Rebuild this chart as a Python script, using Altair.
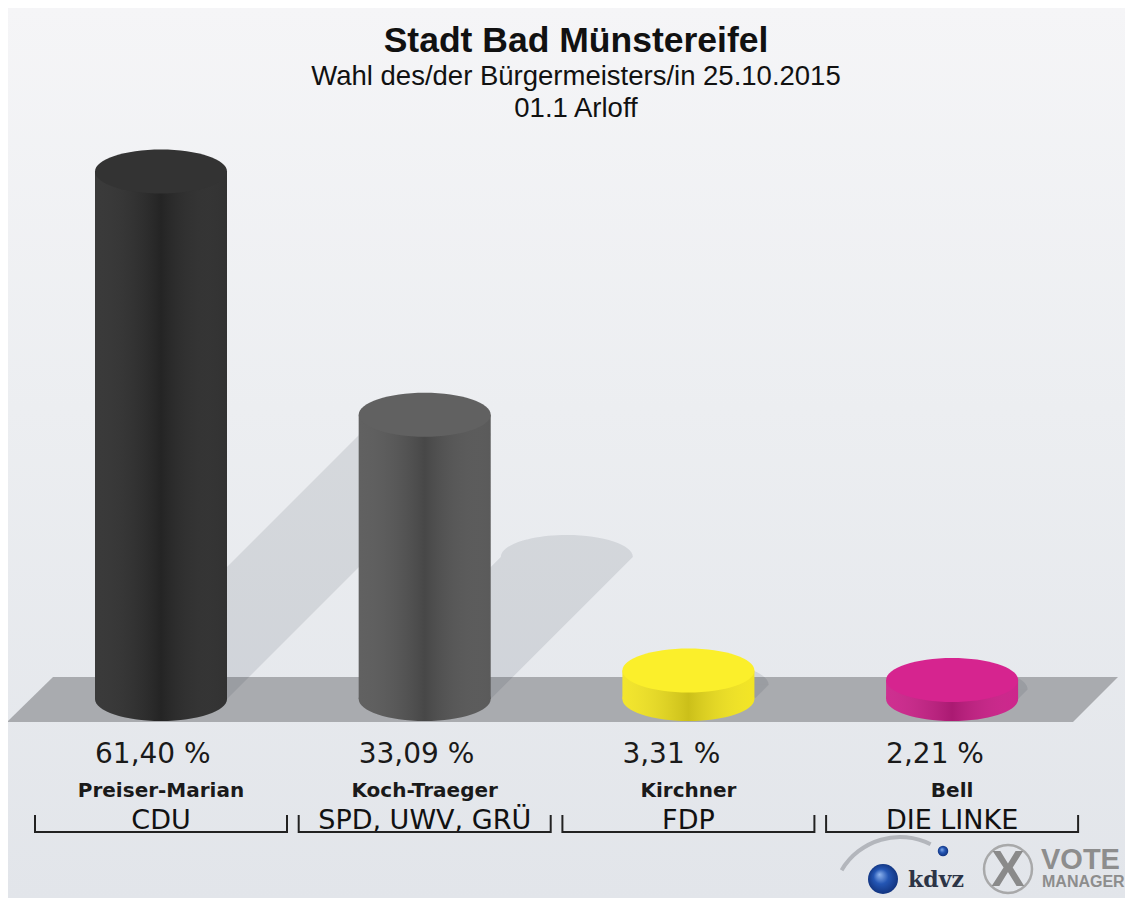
import altair as alt
import pandas as pd

# ---------------- data ----------------
title_text = "Stadt Bad Münstereifel"
subtitle_1 = "Wahl des/der Bürgermeisters/in 25.10.2015"
subtitle_2 = "01.1 Arloff"
candidates = ["Preiser-Marian", "Koch-Traeger", "Kirchner", "Bell"]
parties = ["CDU", "SPD, UWV, GRÜ", "FDP", "DIE LINKE"]
shares = [61.40, 33.09, 3.31, 2.21]
share_labels = ["61,40 %", "33,09 %", "3,31 %", "2,21 %"]
body_colors = ["#2b2b2b", "#555555", "#f2e41e", "#cb1f88"]
top_colors = ["#333333", "#616161", "#fbef2b", "#d6248f"]

# ---------------- layout ----------------
W, H = 1117, 890
BASE = 691.0      # pixel row of the bar base (chart coords)
K = 8.59          # pixels per percent
X0, STEP = 153.0, 263.7
HALF = 66.0
HALF_U = HALF / STEP
FONT = "Liberation Sans"
LFONT = "DejaVu Sans"

def px_to_u(px):
    return (px - X0) / STEP

xs = alt.Scale(domain=[px_to_u(0), px_to_u(W)], nice=False, zero=False)
ys = alt.Scale(domain=[-(H - BASE) / K, BASE / K], nice=False, zero=False)

df = pd.DataFrame({
    "i": list(range(len(candidates))),
    "cand": candidates,
    "party": parties,
    "share": shares,
    "label": share_labels,
    "body": body_colors,
    "top": top_colors,
})
df["zero"] = 0.0
df["xl"] = df["i"] - HALF_U
df["xr"] = df["i"] + HALF_U
df["bl"] = df["i"] - 126 / STEP
df["br"] = df["i"] + 126 / STEP
df["sh_y"] = df["share"] / 2
df["sh_x"] = df["i"] + df["sh_y"] * K / STEP

# shadow parallelograms (45 degree projection of each cylinder)
rows = []
for _, r in df.iterrows():
    for t in (0.0, 1.0):
        yv = t * r["share"] / 2
        dx = yv * K / STEP
        rows.append({"i": r["i"], "y": yv, "xl": r["i"] - HALF_U + dx, "xr": r["i"] + HALF_U + dx})
shadow_df = pd.DataFrame(rows)

floor_df = pd.DataFrame({
    "y": [(BASE - 714) / K, (BASE - 669) / K],
    "xl": [px_to_u(-1), px_to_u(45)],
    "xr": [px_to_u(1065), px_to_u(1110)],
})

one = pd.DataFrame({"a": [0]})

ELL = ("M -1 0 C -1 -0.1841 -0.5523 -0.3333 0 -0.3333 "
       "C 0.5523 -0.3333 1 -0.1841 1 0 "
       "C 1 0.1841 0.5523 0.3333 0 0.3333 "
       "C -0.5523 0.3333 -1 0.1841 -1 0 Z")
HALF_ELL = ("M -1 0 C -1 -0.1841 -0.5523 -0.3333 0 -0.3333 "
            "C 0.5523 -0.3333 1 -0.1841 1 0 Z")
ELL_SIZE = (2 * HALF) ** 2

shade = alt.LinearGradient(
    gradient="linear", x1=0, x2=1, y1=0, y2=0,
    stops=[
        alt.GradientStop(color="rgba(255,255,255,0.07)", offset=0),
        alt.GradientStop(color="rgba(0,0,0,0.16)", offset=0.5),
        alt.GradientStop(color="rgba(255,255,255,0.03)", offset=1),
    ],
)

bg_grad = alt.LinearGradient(
    gradient="linear", x1=0, x2=0, y1=0, y2=1,
    stops=[
        alt.GradientStop(color="#f5f5f7", offset=0),
        alt.GradientStop(color="#eceef1", offset=0.45),
        alt.GradientStop(color="#e2e5ea", offset=1),
    ],
)

ball_grad = alt.RadialGradient(
    gradient="radial", x1=0.38, y1=0.35, r1=0.0, x2=0.5, y2=0.5, r2=0.55,
    stops=[
        alt.GradientStop(color="#8fb4ee", offset=0),
        alt.GradientStop(color="#2456b4", offset=0.45),
        alt.GradientStop(color="#0f2f78", offset=1),
    ],
)

X = lambda f: alt.X(f, scale=xs, axis=None)
Y = lambda f: alt.Y(f, scale=ys, axis=None)

background = alt.Chart(one).mark_rect(fill=bg_grad).encode(
    x=alt.value(0), x2=alt.value(W), y=alt.value(0), y2=alt.value(H)
)

floor = alt.Chart(floor_df).mark_area(orient="horizontal", color="#a9abaf").encode(
    y=Y("y:Q"), x=alt.X("xl:Q", scale=xs, axis=None, stack=None), x2="xr:Q"
)

shadows = alt.Chart(shadow_df).mark_area(
    orient="horizontal", color="#283040", opacity=0.11
).encode(
    y=Y("y:Q"), x=alt.X("xl:Q", scale=xs, axis=None, stack=None), x2="xr:Q", detail="i:N"
)

shadow_tops = alt.Chart(df).mark_point(
    shape=HALF_ELL, size=ELL_SIZE, filled=True, color="#283040", opacity=0.11, strokeWidth=0
).encode(x=X("sh_x:Q"), y=Y("sh_y:Q"))

bottoms = alt.Chart(df).mark_point(
    shape=ELL, size=ELL_SIZE, filled=True, opacity=1, strokeWidth=0
).encode(x=X("i:Q"), y=Y("zero:Q"), color=alt.Color("body:N", scale=None))

bottoms_shade = alt.Chart(df).mark_point(
    shape=ELL, size=ELL_SIZE, filled=True, fill=shade, opacity=1, strokeWidth=0
).encode(x=X("i:Q"), y=Y("zero:Q"))

bodies = alt.Chart(df).mark_bar().encode(
    x=X("xl:Q"), x2="xr:Q", y=Y("zero:Q"), y2="share:Q",
    color=alt.Color("body:N", scale=None),
)

bodies_shade = alt.Chart(df).mark_bar(fill=shade).encode(
    x=X("xl:Q"), x2="xr:Q", y=Y("zero:Q"), y2="share:Q"
)

tops = alt.Chart(df).mark_point(
    shape=ELL, size=ELL_SIZE, filled=True, opacity=1, strokeWidth=0
).encode(x=X("i:Q"), y=Y("share:Q"), color=alt.Color("top:N", scale=None))

pct_text = alt.Chart(df).mark_text(
    font=LFONT, fontSize=28, color="#1a1a1a", align="left", baseline="alphabetic"
).encode(x=X("xl:Q"), y=alt.value(755), text="label:N")

cand_text = alt.Chart(df).mark_text(
    font=LFONT, fontSize=20, fontWeight="bold", color="#1a1a1a", baseline="alphabetic"
).encode(x=X("i:Q"), y=alt.value(789), text="cand:N")

party_text = alt.Chart(df).mark_text(
    font=LFONT, fontSize=27, color="#111111", baseline="alphabetic"
).encode(x=X("i:Q"), y=alt.value(821), text="party:N")

bracket_h = alt.Chart(df).mark_rule(color="#222222", strokeWidth=2).encode(
    x=X("bl:Q"), x2="br:Q", y=alt.value(824)
)
bracket_l = alt.Chart(df).mark_rule(color="#222222", strokeWidth=2).encode(
    x=X("bl:Q"), y=alt.value(807), y2=alt.value(825)
)
bracket_r = alt.Chart(df).mark_rule(color="#222222", strokeWidth=2).encode(
    x=X("br:Q"), y=alt.value(807), y2=alt.value(825)
)

def txt(text, x, y, size, weight="normal", color="#111111", align="center",
        font=FONT, baseline="middle"):
    return alt.Chart(one).mark_text(
        text=text, font=font, fontSize=size, fontWeight=weight, color=color,
        align=align, baseline=baseline
    ).encode(x=alt.value(x), y=alt.value(y))

title = txt(title_text, 568, 44, 35.5, "bold", baseline="alphabetic")
sub1 = txt(subtitle_1, 568, 77, 27.5, baseline="alphabetic")
sub2 = txt(subtitle_2, 568, 109, 27.5, baseline="alphabetic")

# logo (kdvz / VOTE MANAGER)
swoosh = alt.Chart(one).mark_arc(
    radius=70, radius2=66, theta=5.25, theta2=6.75, color="#b3b6bc"
).encode(x=alt.value(892), y=alt.value(897))
ball = alt.Chart(one).mark_point(
    shape="circle", filled=True, fill=ball_grad, size=900, opacity=1, strokeWidth=0
).encode(x=alt.value(875), y=alt.value(871))
ball2 = alt.Chart(one).mark_point(
    shape="circle", filled=True, fill=ball_grad, size=110, opacity=1, strokeWidth=0
).encode(x=alt.value(935), y=alt.value(843))
kdvz = txt("kdvz", 928, 879, 22, "bold", "#2c3446", font="DejaVu Serif", baseline="alphabetic")
ring = alt.Chart(one).mark_point(
    shape="circle", filled=False, color="#9a9a9a", size=2300, strokeWidth=2.5, opacity=0.8
).encode(x=alt.value(1000), y=alt.value(861))
xmark = txt("X", 1000, 878, 50, "bold", "#8a8a8a", baseline="alphabetic")
vote = txt("VOTE", 1033, 861, 29, "bold", "#8d8d8d", align="left", baseline="alphabetic")
manager = txt("MANAGER", 1034, 879, 16, "bold", "#8d8d8d", align="left", baseline="alphabetic")

chart = alt.layer(
    background, floor, shadows, shadow_tops,
    bottoms, bottoms_shade, bodies, bodies_shade, tops,
    pct_text, cand_text, party_text, bracket_h, bracket_l, bracket_r,
    title, sub1, sub2, swoosh, ball, ball2, kdvz, ring, xmark, vote, manager,
).properties(
    width=W, height=H, padding=0, autosize="none", background="#e9ebee"
).configure_view(stroke=None)

chart.save("out.html", embed_options={"renderer": "svg", "actions": False})
